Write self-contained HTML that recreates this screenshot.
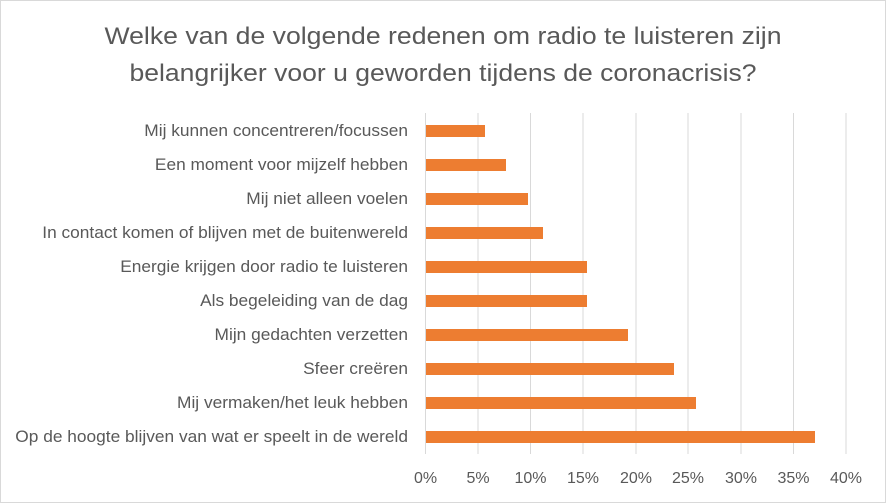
<!DOCTYPE html>
<html><head><meta charset="utf-8"><style>
html,body{margin:0;padding:0;background:#fff;}
svg{display:block;font-family:"Liberation Sans",Arial,sans-serif;}
</style></head><body>
<svg width="886" height="503" viewBox="0 0 886 503">
<rect x="0.5" y="0.5" width="885" height="502" fill="#fff" stroke="#d9d9d9"/>
<g fill="#595959" font-size="24">
<text x="443" y="44" text-anchor="middle" textLength="677" lengthAdjust="spacingAndGlyphs">Welke van de volgende redenen om radio te luisteren zijn</text>
<text x="443" y="81" text-anchor="middle" textLength="627" lengthAdjust="spacingAndGlyphs">belangrijker voor u geworden tijdens de coronacrisis?</text>
</g>
<g stroke="#d9d9d9" stroke-width="1">
<line x1="425.5" y1="113" x2="425.5" y2="454"/>
<line x1="478" y1="113" x2="478" y2="454"/>
<line x1="530.5" y1="113" x2="530.5" y2="454"/>
<line x1="583" y1="113" x2="583" y2="454"/>
<line x1="636" y1="113" x2="636" y2="454"/>
<line x1="688" y1="113" x2="688" y2="454"/>
<line x1="741" y1="113" x2="741" y2="454"/>
<line x1="793.5" y1="113" x2="793.5" y2="454"/>
<line x1="846" y1="113" x2="846" y2="454"/>
</g>
<g fill="#ed7d31">
<rect x="426" y="125" width="59" height="12"/>
<rect x="426" y="159" width="80" height="12"/>
<rect x="426" y="193" width="102" height="12"/>
<rect x="426" y="227" width="117" height="12"/>
<rect x="426" y="261" width="161" height="12"/>
<rect x="426" y="295" width="161" height="12"/>
<rect x="426" y="329" width="202" height="12"/>
<rect x="426" y="363" width="248" height="12"/>
<rect x="426" y="397" width="270" height="12"/>
<rect x="426" y="431" width="389" height="12"/>
</g>
<g fill="#595959" font-size="16.5" text-anchor="end" transform="translate(408,0) scale(1.05,1)">
<text x="0" y="136">Mij kunnen concentreren/focussen</text>
<text x="0" y="170">Een moment voor mijzelf hebben</text>
<text x="0" y="204">Mij niet alleen voelen</text>
<text x="0" y="238">In contact komen of blijven met de buitenwereld</text>
<text x="0" y="272">Energie krijgen door radio te luisteren</text>
<text x="0" y="306">Als begeleiding van de dag</text>
<text x="0" y="340">Mijn gedachten verzetten</text>
<text x="0" y="374">Sfeer creëren</text>
<text x="0" y="408">Mij vermaken/het leuk hebben</text>
<text x="0" y="442">Op de hoogte blijven van wat er speelt in de wereld</text>
</g>
<g fill="#595959" font-size="16" text-anchor="middle">
<text x="425.5" y="483">0%</text>
<text x="478" y="483">5%</text>
<text x="530.5" y="483">10%</text>
<text x="583" y="483">15%</text>
<text x="636" y="483">20%</text>
<text x="688" y="483">25%</text>
<text x="741" y="483">30%</text>
<text x="793.5" y="483">35%</text>
<text x="846" y="483">40%</text>
</g>
</svg>
</body></html>
